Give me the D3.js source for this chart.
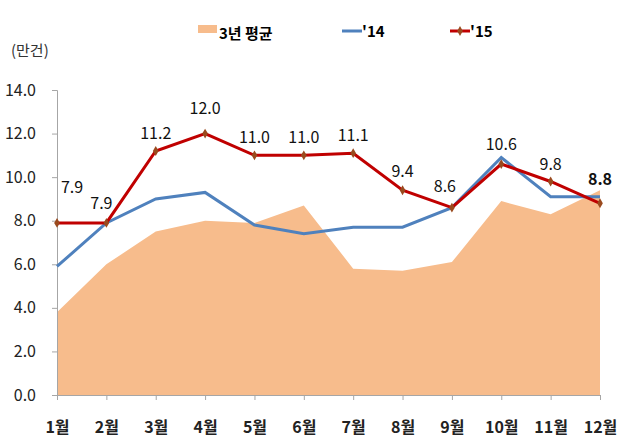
<!DOCTYPE html>
<html>
<head>
<meta charset="utf-8">
<script src="https://cdn.jsdelivr.net/npm/d3@7"></script>
<style>
  body { margin: 0; background: #fff; }
  svg text { font-family: "Noto Sans CJK KR", "Open Sans", sans-serif; }
</style>
</head>
<body>
<div id="chart"></div>
<script>
// data
const months = ['1월', '2월', '3월', '4월', '5월', '6월', '7월', '8월', '9월', '10월', '11월', '12월'];
const avg3yr = [3.8, 6.0, 7.5, 8.0, 7.9, 8.7, 5.8, 5.7, 6.1, 8.9, 8.3, 9.4];
const y2014 = [5.9, 7.9, 9.0, 9.3, 7.8, 7.4, 7.7, 7.7, 8.6, 10.9, 9.1, 9.1];
const y2015 = [7.9, 7.9, 11.2, 12.0, 11.0, 11.0, 11.1, 9.4, 8.6, 10.6, 9.8, 8.8];
const yTicks = [0, 2, 4, 6, 8, 10, 12, 14];

// label nudges (layout only), px relative to point
const labelNudge = [[15, -30], [-5, -14], [0, -12], [0, -20], [0, -12], [0, -12], [0, -12], [0, -13], [-7, -16], [0, -14], [0, -12], [0, -18]];

const width = 625, height = 440;

const svg = d3.select('#chart')
    .append('svg')
    .attr('width', width)
    .attr('height', height);

const x = d3.scalePoint()
    .domain(months)
    .range([57, 600]);

const y = d3.scaleLinear()
    .domain([0, 14])
    .range([395, 90]);

// area for 3yr average
const area = d3.area()
    .x((d, i) => x(months[i]))
    .y0(y(0))
    .y1(d => y(d));

svg.append('path')
    .datum(avg3yr)
    .attr('d', area)
    .attr('fill', '#F7BC8C');

// axes
const yAxis = svg.append('g')
    .attr('transform', `translate(${x(months[0])},0)`)
    .call(d3.axisLeft(y).tickValues(yTicks).tickSize(5).tickFormat(d3.format('.1f')));

const xAxis = svg.append('g')
    .attr('transform', `translate(0,${y(0)})`)
    .call(d3.axisBottom(x).tickSize(5).tickPadding(22));

[yAxis, xAxis].forEach(ax => {
    ax.select('.domain').attr('stroke', '#a6a6a6');
    ax.selectAll('.tick line').attr('stroke', '#a6a6a6');
});

yAxis.selectAll('.tick text')
    .attr('x', -21)
    .attr('font-size', 16)
    .attr('fill', '#222');

xAxis.selectAll('.tick text')
    .attr('font-size', 16)
    .attr('font-weight', 'bold')
    .attr('fill', '#222');

const line = d3.line()
    .x((d, i) => x(months[i]))
    .y(d => y(d));

svg.append('path')
    .datum(y2014)
    .attr('d', line)
    .attr('fill', 'none')
    .attr('stroke', '#4F81BD')
    .attr('stroke-width', 3);

svg.append('path')
    .datum(y2015)
    .attr('d', line)
    .attr('fill', 'none')
    .attr('stroke', '#C00000')
    .attr('stroke-width', 3);

svg.selectAll('.marker')
    .data(y2015)
    .enter()
    .append('path')
    .attr('class', 'marker')
    .attr('d', d3.symbol().type(d3.symbolDiamond).size(28))
    .attr('transform', (d, i) => `translate(${x(months[i])},${y(d)})`)
    .attr('fill', '#9A4A1E');

svg.selectAll('.val-label')
    .data(y2015)
    .enter()
    .append('text')
    .attr('class', 'val-label')
    .attr('x', (d, i) => x(months[i]) + labelNudge[i][0])
    .attr('y', (d, i) => y(d) + labelNudge[i][1])
    .attr('text-anchor', 'middle')
    .attr('font-size', 16)
    .attr('font-weight', (d, i) => i === months.length - 1 ? 'bold' : 'normal')
    .attr('fill', '#111')
    .text(d => d.toFixed(1));

// unit label
svg.append('text')
    .attr('x', 11)
    .attr('y', 56)
    .attr('font-size', 15)
    .attr('fill', '#333')
    .text('(만건)');

// legend
const legend = svg.append('g');
legend.append('rect')
    .attr('x', 198).attr('y', 25)
    .attr('width', 19).attr('height', 8)
    .attr('fill', '#F7BC8C');
legend.append('text')
    .attr('x', 219).attr('y', 39)
    .attr('font-size', 15).attr('font-weight', 'bold')
    .text('3년 평균');

legend.append('line')
    .attr('x1', 342).attr('x2', 362)
    .attr('y1', 31).attr('y2', 31)
    .attr('stroke', '#4F81BD').attr('stroke-width', 3);
legend.append('text')
    .attr('x', 362).attr('y', 37)
    .attr('font-size', 15).attr('font-weight', 'bold')
    .text("'14");

legend.append('line')
    .attr('x1', 450).attr('x2', 470)
    .attr('y1', 31).attr('y2', 31)
    .attr('stroke', '#C00000').attr('stroke-width', 3);
legend.append('path')
    .attr('d', d3.symbol().type(d3.symbolDiamond).size(28))
    .attr('transform', 'translate(460,31)')
    .attr('fill', '#9A4A1E');
legend.append('text')
    .attr('x', 470).attr('y', 37)
    .attr('font-size', 15).attr('font-weight', 'bold')
    .text("'15");
</script>
</body>
</html>
